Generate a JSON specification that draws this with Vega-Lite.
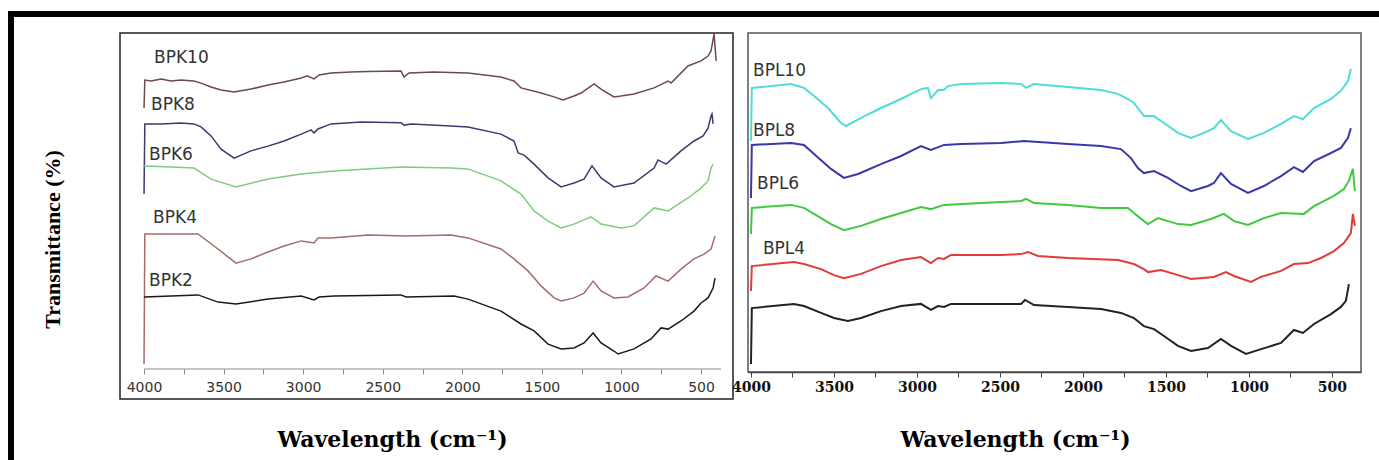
{
  "$schema": "https://vega.github.io/schema/vega-lite/v6.json",
  "background": "white",
  "padding": {"left": 7, "top": 10, "right": 0, "bottom": 0},
  "autosize": {"type": "pad"},
  "bounds": "flush",
  "spacing": 15,
  "resolve": {"scale": {"color": "independent", "x": "independent", "y": "independent"}},
  "datasets": {
    "bpk": [
      {"s":"BPK10","x":4000,"y":97},{"s":"BPK10","x":3995,"y":106.3},{"s":"BPK10","x":3956,"y":106},{"s":"BPK10","x":3893,"y":106.7},{"s":"BPK10","x":3830,"y":106},{"s":"BPK10","x":3768,"y":106.3},{"s":"BPK10","x":3686,"y":106},{"s":"BPK10","x":3642,"y":105.3},{"s":"BPK10","x":3579,"y":104},{"s":"BPK10","x":3516,"y":103},{"s":"BPK10","x":3434,"y":102.3},{"s":"BPK10","x":3328,"y":103.3},{"s":"BPK10","x":3221,"y":104.7},{"s":"BPK10","x":3120,"y":105.7},{"s":"BPK10","x":3012,"y":107},{"s":"BPK10","x":2975,"y":107.7},{"s":"BPK10","x":2932,"y":106.7},{"s":"BPK10","x":2900,"y":108},{"s":"BPK10","x":2825,"y":108.7},{"s":"BPK10","x":2700,"y":109},{"s":"BPK10","x":2593,"y":109.2},{"s":"BPK10","x":2385,"y":109.3},{"s":"BPK10","x":2366,"y":107.3},{"s":"BPK10","x":2335,"y":108.7},{"s":"BPK10","x":2178,"y":109},{"s":"BPK10","x":1964,"y":108.7},{"s":"BPK10","x":1757,"y":107.3},{"s":"BPK10","x":1675,"y":106},{"s":"BPK10","x":1631,"y":103.7},{"s":"BPK10","x":1505,"y":102},{"s":"BPK10","x":1423,"y":100.7},{"s":"BPK10","x":1367,"y":99.7},{"s":"BPK10","x":1298,"y":101},{"s":"BPK10","x":1254,"y":102},{"s":"BPK10","x":1172,"y":105},{"s":"BPK10","x":1128,"y":103.3},{"s":"BPK10","x":1047,"y":100.7},{"s":"BPK10","x":1003,"y":101},{"s":"BPK10","x":921,"y":101.7},{"s":"BPK10","x":795,"y":103.7},{"s":"BPK10","x":707,"y":106},{"s":"BPK10","x":688,"y":105.3},{"s":"BPK10","x":582,"y":111},{"s":"BPK10","x":500,"y":112.7},{"s":"BPK10","x":456,"y":114.3},{"s":"BPK10","x":437,"y":116},{"s":"BPK10","x":418,"y":121.7},{"s":"BPK10","x":405,"y":112.7},
      {"s":"BPK8","x":4000,"y":68.3},{"s":"BPK8","x":3995,"y":91.7},{"s":"BPK8","x":3893,"y":91.7},{"s":"BPK8","x":3768,"y":92},{"s":"BPK8","x":3686,"y":91.7},{"s":"BPK8","x":3642,"y":90.7},{"s":"BPK8","x":3579,"y":87.7},{"s":"BPK8","x":3516,"y":83.3},{"s":"BPK8","x":3434,"y":80.3},{"s":"BPK8","x":3328,"y":82.7},{"s":"BPK8","x":3221,"y":84.3},{"s":"BPK8","x":3120,"y":86},{"s":"BPK8","x":3012,"y":88.3},{"s":"BPK8","x":2950,"y":89.7},{"s":"BPK8","x":2932,"y":88.7},{"s":"BPK8","x":2907,"y":90},{"s":"BPK8","x":2825,"y":91.7},{"s":"BPK8","x":2637,"y":92.3},{"s":"BPK8","x":2385,"y":92.1},{"s":"BPK8","x":2366,"y":91.3},{"s":"BPK8","x":2322,"y":91.7},{"s":"BPK8","x":2071,"y":91},{"s":"BPK8","x":1964,"y":90.7},{"s":"BPK8","x":1757,"y":88.3},{"s":"BPK8","x":1675,"y":86},{"s":"BPK8","x":1649,"y":82},{"s":"BPK8","x":1612,"y":81.3},{"s":"BPK8","x":1549,"y":78.3},{"s":"BPK8","x":1461,"y":73.7},{"s":"BPK8","x":1379,"y":70.7},{"s":"BPK8","x":1298,"y":72},{"s":"BPK8","x":1235,"y":73.3},{"s":"BPK8","x":1185,"y":77.7},{"s":"BPK8","x":1128,"y":73.7},{"s":"BPK8","x":1047,"y":70.7},{"s":"BPK8","x":921,"y":72},{"s":"BPK8","x":795,"y":77},{"s":"BPK8","x":770,"y":79.7},{"s":"BPK8","x":719,"y":78.3},{"s":"BPK8","x":626,"y":82.7},{"s":"BPK8","x":544,"y":86},{"s":"BPK8","x":487,"y":87.7},{"s":"BPK8","x":456,"y":90.3},{"s":"BPK8","x":437,"y":94.3},{"s":"BPK8","x":431,"y":95},{"s":"BPK8","x":424,"y":91.7},
      {"s":"BPK6","x":4000,"y":77.7},{"s":"BPK6","x":3830,"y":77.3},{"s":"BPK6","x":3686,"y":77},{"s":"BPK6","x":3579,"y":73.3},{"s":"BPK6","x":3422,"y":70.7},{"s":"BPK6","x":3221,"y":73.3},{"s":"BPK6","x":3012,"y":75},{"s":"BPK6","x":2806,"y":76},{"s":"BPK6","x":2385,"y":77.3},{"s":"BPK6","x":2071,"y":77},{"s":"BPK6","x":1964,"y":76.7},{"s":"BPK6","x":1757,"y":72.7},{"s":"BPK6","x":1631,"y":68.3},{"s":"BPK6","x":1549,"y":62.7},{"s":"BPK6","x":1461,"y":59.3},{"s":"BPK6","x":1379,"y":57},{"s":"BPK6","x":1298,"y":58.3},{"s":"BPK6","x":1191,"y":60.7},{"s":"BPK6","x":1128,"y":58.3},{"s":"BPK6","x":1003,"y":57},{"s":"BPK6","x":921,"y":57.7},{"s":"BPK6","x":795,"y":63.7},{"s":"BPK6","x":707,"y":62.7},{"s":"BPK6","x":582,"y":67},{"s":"BPK6","x":500,"y":70.3},{"s":"BPK6","x":456,"y":72.7},{"s":"BPK6","x":437,"y":77},{"s":"BPK6","x":424,"y":78.3},
      {"s":"BPK4","x":4000,"y":11.7},{"s":"BPK4","x":3995,"y":55},{"s":"BPK4","x":3830,"y":55},{"s":"BPK4","x":3661,"y":55},{"s":"BPK4","x":3560,"y":51},{"s":"BPK4","x":3422,"y":45.3},{"s":"BPK4","x":3328,"y":46.7},{"s":"BPK4","x":3221,"y":49},{"s":"BPK4","x":3120,"y":51},{"s":"BPK4","x":3012,"y":52.7},{"s":"BPK4","x":2932,"y":52},{"s":"BPK4","x":2907,"y":53.7},{"s":"BPK4","x":2825,"y":53.7},{"s":"BPK4","x":2593,"y":54.7},{"s":"BPK4","x":2354,"y":54.3},{"s":"BPK4","x":2071,"y":54.7},{"s":"BPK4","x":1964,"y":53.7},{"s":"BPK4","x":1757,"y":50},{"s":"BPK4","x":1675,"y":46.7},{"s":"BPK4","x":1587,"y":42.7},{"s":"BPK4","x":1505,"y":37.7},{"s":"BPK4","x":1423,"y":33.7},{"s":"BPK4","x":1379,"y":32.7},{"s":"BPK4","x":1298,"y":33.7},{"s":"BPK4","x":1235,"y":35.3},{"s":"BPK4","x":1178,"y":39.3},{"s":"BPK4","x":1128,"y":36},{"s":"BPK4","x":1047,"y":33.7},{"s":"BPK4","x":959,"y":34},{"s":"BPK4","x":858,"y":37},{"s":"BPK4","x":783,"y":41},{"s":"BPK4","x":707,"y":39.3},{"s":"BPK4","x":626,"y":43.3},{"s":"BPK4","x":544,"y":46.7},{"s":"BPK4","x":481,"y":48.3},{"s":"BPK4","x":437,"y":50},{"s":"BPK4","x":412,"y":54.3},
      {"s":"BPK2","x":4000,"y":34},{"s":"BPK2","x":3830,"y":34.3},{"s":"BPK2","x":3661,"y":34.7},{"s":"BPK2","x":3535,"y":32.3},{"s":"BPK2","x":3422,"y":31.7},{"s":"BPK2","x":3221,"y":33.3},{"s":"BPK2","x":3012,"y":34.3},{"s":"BPK2","x":2932,"y":33},{"s":"BPK2","x":2900,"y":34},{"s":"BPK2","x":2806,"y":34.3},{"s":"BPK2","x":2385,"y":34.7},{"s":"BPK2","x":2354,"y":34},{"s":"BPK2","x":2052,"y":34.3},{"s":"BPK2","x":1964,"y":33.3},{"s":"BPK2","x":1757,"y":29.3},{"s":"BPK2","x":1631,"y":25},{"s":"BPK2","x":1549,"y":22.7},{"s":"BPK2","x":1461,"y":18.3},{"s":"BPK2","x":1379,"y":16.7},{"s":"BPK2","x":1298,"y":17},{"s":"BPK2","x":1235,"y":18.7},{"s":"BPK2","x":1178,"y":22},{"s":"BPK2","x":1128,"y":18.7},{"s":"BPK2","x":1047,"y":16},{"s":"BPK2","x":1021,"y":15},{"s":"BPK2","x":921,"y":16.7},{"s":"BPK2","x":814,"y":20},{"s":"BPK2","x":751,"y":23.7},{"s":"BPK2","x":707,"y":23.3},{"s":"BPK2","x":626,"y":26},{"s":"BPK2","x":544,"y":29.3},{"s":"BPK2","x":500,"y":32},{"s":"BPK2","x":456,"y":33.7},{"s":"BPK2","x":424,"y":37},{"s":"BPK2","x":412,"y":40.3}
    ],
    "bpkLab": [
      {"t":"BPK10","x":3937,"y":113.7},{"t":"BPK8","x":3956,"y":98},{"t":"BPK6","x":3969,"y":81.3},{"t":"BPK4","x":3943,"y":60.3},{"t":"BPK2","x":3969,"y":39.3}
    ],
    "bpl": [
      {"s":"BPL10","x":4000,"y":77},{"s":"BPL10","x":3995,"y":94.7},{"s":"BPL10","x":3759,"y":96},{"s":"BPL10","x":3681,"y":94.7},{"s":"BPL10","x":3620,"y":92},{"s":"BPL10","x":3536,"y":88},{"s":"BPL10","x":3458,"y":83},{"s":"BPL10","x":3428,"y":82},{"s":"BPL10","x":3337,"y":84.7},{"s":"BPL10","x":3217,"y":88},{"s":"BPL10","x":3096,"y":91},{"s":"BPL10","x":2976,"y":94.3},{"s":"BPL10","x":2934,"y":94.7},{"s":"BPL10","x":2916,"y":91.3},{"s":"BPL10","x":2873,"y":94},{"s":"BPL10","x":2837,"y":94},{"s":"BPL10","x":2813,"y":95.3},{"s":"BPL10","x":2735,"y":96},{"s":"BPL10","x":2494,"y":96.3},{"s":"BPL10","x":2373,"y":96},{"s":"BPL10","x":2343,"y":94.7},{"s":"BPL10","x":2295,"y":96},{"s":"BPL10","x":2090,"y":95},{"s":"BPL10","x":1892,"y":94},{"s":"BPL10","x":1789,"y":92.7},{"s":"BPL10","x":1729,"y":91},{"s":"BPL10","x":1693,"y":89.7},{"s":"BPL10","x":1633,"y":85.3},{"s":"BPL10","x":1572,"y":85.3},{"s":"BPL10","x":1512,"y":83},{"s":"BPL10","x":1428,"y":79.7},{"s":"BPL10","x":1349,"y":78},{"s":"BPL10","x":1271,"y":79.7},{"s":"BPL10","x":1211,"y":81.3},{"s":"BPL10","x":1169,"y":84},{"s":"BPL10","x":1108,"y":80.3},{"s":"BPL10","x":1006,"y":77.7},{"s":"BPL10","x":910,"y":79.7},{"s":"BPL10","x":807,"y":82.7},{"s":"BPL10","x":729,"y":85.3},{"s":"BPL10","x":675,"y":84.3},{"s":"BPL10","x":608,"y":88},{"s":"BPL10","x":506,"y":91},{"s":"BPL10","x":446,"y":93.7},{"s":"BPL10","x":404,"y":97},{"s":"BPL10","x":386,"y":101},
      {"s":"BPL8","x":4000,"y":58},{"s":"BPL8","x":3995,"y":75.7},{"s":"BPL8","x":3759,"y":76.3},{"s":"BPL8","x":3681,"y":75.7},{"s":"BPL8","x":3620,"y":72.7},{"s":"BPL8","x":3518,"y":67.7},{"s":"BPL8","x":3440,"y":64.7},{"s":"BPL8","x":3355,"y":66},{"s":"BPL8","x":3217,"y":69.3},{"s":"BPL8","x":3096,"y":72},{"s":"BPL8","x":2976,"y":75.3},{"s":"BPL8","x":2916,"y":74},{"s":"BPL8","x":2837,"y":75.7},{"s":"BPL8","x":2735,"y":76},{"s":"BPL8","x":2494,"y":76.3},{"s":"BPL8","x":2355,"y":77},{"s":"BPL8","x":2090,"y":76},{"s":"BPL8","x":1892,"y":75.3},{"s":"BPL8","x":1771,"y":74.3},{"s":"BPL8","x":1711,"y":71.3},{"s":"BPL8","x":1669,"y":68},{"s":"BPL8","x":1633,"y":66.3},{"s":"BPL8","x":1572,"y":67},{"s":"BPL8","x":1488,"y":64.7},{"s":"BPL8","x":1410,"y":62},{"s":"BPL8","x":1349,"y":60.3},{"s":"BPL8","x":1247,"y":62},{"s":"BPL8","x":1211,"y":63},{"s":"BPL8","x":1169,"y":66.3},{"s":"BPL8","x":1108,"y":62.7},{"s":"BPL8","x":1006,"y":59.7},{"s":"BPL8","x":910,"y":62},{"s":"BPL8","x":807,"y":65.3},{"s":"BPL8","x":729,"y":68.3},{"s":"BPL8","x":675,"y":66.7},{"s":"BPL8","x":608,"y":70.3},{"s":"BPL8","x":506,"y":73},{"s":"BPL8","x":446,"y":74.7},{"s":"BPL8","x":404,"y":78},{"s":"BPL8","x":386,"y":81.3},
      {"s":"BPL6","x":4000,"y":46},{"s":"BPL6","x":3995,"y":54.7},{"s":"BPL6","x":3759,"y":55.7},{"s":"BPL6","x":3681,"y":54.7},{"s":"BPL6","x":3620,"y":52.7},{"s":"BPL6","x":3518,"y":49.3},{"s":"BPL6","x":3440,"y":47.3},{"s":"BPL6","x":3337,"y":48.7},{"s":"BPL6","x":3217,"y":51},{"s":"BPL6","x":3096,"y":53},{"s":"BPL6","x":2976,"y":55},{"s":"BPL6","x":2916,"y":54.3},{"s":"BPL6","x":2837,"y":55.7},{"s":"BPL6","x":2614,"y":56.3},{"s":"BPL6","x":2373,"y":57},{"s":"BPL6","x":2343,"y":57.7},{"s":"BPL6","x":2295,"y":56.3},{"s":"BPL6","x":2090,"y":55.7},{"s":"BPL6","x":1892,"y":54.7},{"s":"BPL6","x":1729,"y":54.7},{"s":"BPL6","x":1693,"y":53},{"s":"BPL6","x":1633,"y":50.3},{"s":"BPL6","x":1608,"y":49.3},{"s":"BPL6","x":1548,"y":51.3},{"s":"BPL6","x":1488,"y":50.3},{"s":"BPL6","x":1428,"y":49.3},{"s":"BPL6","x":1349,"y":49},{"s":"BPL6","x":1229,"y":51},{"s":"BPL6","x":1151,"y":52.7},{"s":"BPL6","x":1090,"y":50.3},{"s":"BPL6","x":1006,"y":49},{"s":"BPL6","x":910,"y":51.3},{"s":"BPL6","x":807,"y":53},{"s":"BPL6","x":669,"y":52.7},{"s":"BPL6","x":608,"y":55.3},{"s":"BPL6","x":488,"y":58.7},{"s":"BPL6","x":428,"y":61},{"s":"BPL6","x":398,"y":63.7},{"s":"BPL6","x":374,"y":67.7},{"s":"BPL6","x":362,"y":60.3},
      {"s":"BPL4","x":4000,"y":27},{"s":"BPL4","x":3995,"y":35.3},{"s":"BPL4","x":3741,"y":36.7},{"s":"BPL4","x":3681,"y":36},{"s":"BPL4","x":3578,"y":34.3},{"s":"BPL4","x":3500,"y":32.3},{"s":"BPL4","x":3440,"y":31.3},{"s":"BPL4","x":3337,"y":32.7},{"s":"BPL4","x":3217,"y":35.3},{"s":"BPL4","x":3096,"y":37.3},{"s":"BPL4","x":2976,"y":38.3},{"s":"BPL4","x":2916,"y":36.3},{"s":"BPL4","x":2873,"y":38},{"s":"BPL4","x":2837,"y":37.7},{"s":"BPL4","x":2795,"y":39},{"s":"BPL4","x":2494,"y":39},{"s":"BPL4","x":2373,"y":39.3},{"s":"BPL4","x":2331,"y":40},{"s":"BPL4","x":2271,"y":38.7},{"s":"BPL4","x":2090,"y":38},{"s":"BPL4","x":1789,"y":37.3},{"s":"BPL4","x":1693,"y":36},{"s":"BPL4","x":1633,"y":34.3},{"s":"BPL4","x":1608,"y":33.3},{"s":"BPL4","x":1530,"y":34},{"s":"BPL4","x":1452,"y":32.7},{"s":"BPL4","x":1349,"y":31},{"s":"BPL4","x":1211,"y":31.7},{"s":"BPL4","x":1139,"y":33.3},{"s":"BPL4","x":1090,"y":32},{"s":"BPL4","x":988,"y":30},{"s":"BPL4","x":928,"y":31.7},{"s":"BPL4","x":807,"y":33.7},{"s":"BPL4","x":729,"y":36},{"s":"BPL4","x":645,"y":36.3},{"s":"BPL4","x":566,"y":38},{"s":"BPL4","x":488,"y":40.3},{"s":"BPL4","x":428,"y":43},{"s":"BPL4","x":386,"y":46.3},{"s":"BPL4","x":374,"y":52.7},{"s":"BPL4","x":362,"y":48.7},
      {"s":"BPL2","x":4000,"y":2.7},{"s":"BPL2","x":3995,"y":21.3},{"s":"BPL2","x":3741,"y":22.7},{"s":"BPL2","x":3681,"y":22},{"s":"BPL2","x":3578,"y":19.7},{"s":"BPL2","x":3500,"y":18},{"s":"BPL2","x":3416,"y":17},{"s":"BPL2","x":3337,"y":18},{"s":"BPL2","x":3217,"y":20.3},{"s":"BPL2","x":3096,"y":22},{"s":"BPL2","x":2976,"y":22.7},{"s":"BPL2","x":2916,"y":20.7},{"s":"BPL2","x":2873,"y":22},{"s":"BPL2","x":2837,"y":21.7},{"s":"BPL2","x":2795,"y":22.7},{"s":"BPL2","x":2494,"y":22.7},{"s":"BPL2","x":2373,"y":22.7},{"s":"BPL2","x":2349,"y":24},{"s":"BPL2","x":2295,"y":22.3},{"s":"BPL2","x":2090,"y":21.7},{"s":"BPL2","x":1892,"y":21},{"s":"BPL2","x":1771,"y":19.7},{"s":"BPL2","x":1693,"y":18},{"s":"BPL2","x":1633,"y":15.3},{"s":"BPL2","x":1572,"y":14.3},{"s":"BPL2","x":1512,"y":12},{"s":"BPL2","x":1428,"y":8.7},{"s":"BPL2","x":1349,"y":7},{"s":"BPL2","x":1247,"y":8},{"s":"BPL2","x":1169,"y":11},{"s":"BPL2","x":1108,"y":8.7},{"s":"BPL2","x":1018,"y":6},{"s":"BPL2","x":946,"y":7.3},{"s":"BPL2","x":807,"y":9.7},{"s":"BPL2","x":729,"y":14},{"s":"BPL2","x":675,"y":13},{"s":"BPL2","x":608,"y":16},{"s":"BPL2","x":506,"y":19.3},{"s":"BPL2","x":446,"y":21.7},{"s":"BPL2","x":416,"y":23.7},{"s":"BPL2","x":398,"y":29.3}
    ],
    "bplLab": [
      {"t":"BPL10","x":3988,"y":100.3},{"t":"BPL8","x":3988,"y":80.3},{"t":"BPL6","x":3964,"y":62.7},{"t":"BPL4","x":3928,"y":41}
    ]
  },
  "hconcat": [
    {
      "width": 613,
      "height": 366,
      "view": {"stroke": "#222", "strokeWidth": 1.5},
      "layer": [
        {
          "data": {"values": [{}]},
          "mark": {"type": "rect", "fillOpacity": 0, "stroke": "#000", "strokeWidth": 6},
          "encoding": {
            "x": {"datum": 4836, "type": "quantitative"},
            "x2": {"datum": -3898},
            "y": {"datum": 128.3, "type": "quantitative"},
            "y2": {"datum": -27.3}
          }
        },
        {
          "data": {"values": [{}]},
          "mark": {"type": "rule", "stroke": "#888", "strokeWidth": 1.2},
          "encoding": {
            "x": {"datum": 4000, "type": "quantitative"},
            "x2": {"datum": 375},
            "y": {"datum": 10, "type": "quantitative"}
          }
        },
        {
          "data": {"name": "bpk"},
          "mark": {"type": "line", "strokeWidth": 1.5, "interpolate": "linear"},
          "encoding": {
            "x": {
              "field": "x", "type": "quantitative",
              "scale": {"domain": [299, 4151], "reverse": true, "nice": false, "zero": false},
              "axis": {
                "title": "Wavelength (cm⁻¹)",
                "values": [4000,3750,3500,3250,3000,2750,2500,2250,2000,1750,1500,1250,1000,750,500],
                "format": "d",
                "labelExpr": "datum.value % 500 === 0 ? datum.label : ''",
                "labelOverlap": false,
                "offset": -30,
                "domain": false,
                "grid": false,
                "tickColor": "#888",
                "tickSize": 5,
                "labelFont": "DejaVu Sans",
                "labelFontSize": 14,
                "labelColor": "#333",
                "labelPadding": 6,
                "titleFont": "DejaVu Serif",
                "titleFontSize": 22,
                "titleFontWeight": "bold",
                "titleColor": "#000",
                "titleX": 272,
                "titleY": 77,
                "titleBaseline": "alphabetic",
                "titleAlign": "center"
              }
            },
            "y": {
              "field": "y", "type": "quantitative",
              "scale": {"domain": [0, 122], "nice": false, "zero": false},
              "axis": {
                "title": "Transmittance (%)",
                "labels": false, "ticks": false, "domain": false, "grid": false,
                "titleFont": "Liberation Serif",
                "titleFontSize": 22,
                "titleFontWeight": "bold",
                "titleColor": "#000",
                "titleAngle": -90,
                "titleX": -68,
                "titleY": 206,
                "titleAlign": "center",
                "titleBaseline": "middle"
              }
            },
            "detail": {"field": "s"},
            "color": {
              "field": "s", "type": "nominal", "legend": null,
              "scale": {"domain": ["BPK10","BPK8","BPK6","BPK4","BPK2"], "range": ["#6e4a4a","#3b3b6e","#7fcc7f","#a86a6a","#1a1a1a"]}
            }
          }
        },
        {
          "data": {"name": "bpkLab"},
          "mark": {"type": "text", "align": "left", "baseline": "middle", "font": "DejaVu Sans", "fontSize": 17, "color": "#333"},
          "encoding": {
            "x": {"field": "x", "type": "quantitative"},
            "y": {"field": "y", "type": "quantitative"},
            "text": {"field": "t"}
          }
        }
      ]
    },
    {
      "width": 613,
      "height": 339,
      "view": {"stroke": "#555", "strokeWidth": 1.5},
      "layer": [
        {
          "data": {"name": "bpl"},
          "mark": {"type": "line", "strokeWidth": 2, "interpolate": "linear"},
          "encoding": {
            "x": {
              "field": "x", "type": "quantitative",
              "scale": {"domain": [325, 4018], "reverse": true, "nice": false, "zero": false},
              "axis": {
                "title": "Wavelength (cm⁻¹)",
                "values": [4000,3750,3500,3250,3000,2750,2500,2250,2000,1750,1500,1250,1000,750,500],
                "format": "d",
                "labelExpr": "datum.value % 500 === 0 ? datum.label : ''",
                "labelOverlap": false,
                "grid": false,
                "domainColor": "#444",
                "domainWidth": 1.5,
                "tickColor": "#444",
                "tickSize": 5,
                "labelFont": "DejaVu Serif",
                "labelFontWeight": "bold",
                "labelFontSize": 14,
                "labelColor": "#111",
                "labelPadding": 3,
                "titleFont": "DejaVu Serif",
                "titleFontSize": 22,
                "titleFontWeight": "bold",
                "titleColor": "#000",
                "titleX": 267,
                "titleY": 74,
                "titleBaseline": "alphabetic",
                "titleAlign": "center"
              }
            },
            "y": {
              "field": "y", "type": "quantitative",
              "scale": {"domain": [0, 113], "nice": false, "zero": false},
              "axis": null
            },
            "detail": {"field": "s"},
            "color": {
              "field": "s", "type": "nominal", "legend": null,
              "scale": {"domain": ["BPL10","BPL8","BPL6","BPL4","BPL2"], "range": ["#4fdcd8","#3838a8","#40c840","#e03c3c","#222222"]}
            }
          }
        },
        {
          "data": {"name": "bplLab"},
          "mark": {"type": "text", "align": "left", "baseline": "middle", "font": "DejaVu Sans", "fontSize": 17, "color": "#333"},
          "encoding": {
            "x": {"field": "x", "type": "quantitative"},
            "y": {"field": "y", "type": "quantitative"},
            "text": {"field": "t"}
          }
        }
      ]
    }
  ]
}
